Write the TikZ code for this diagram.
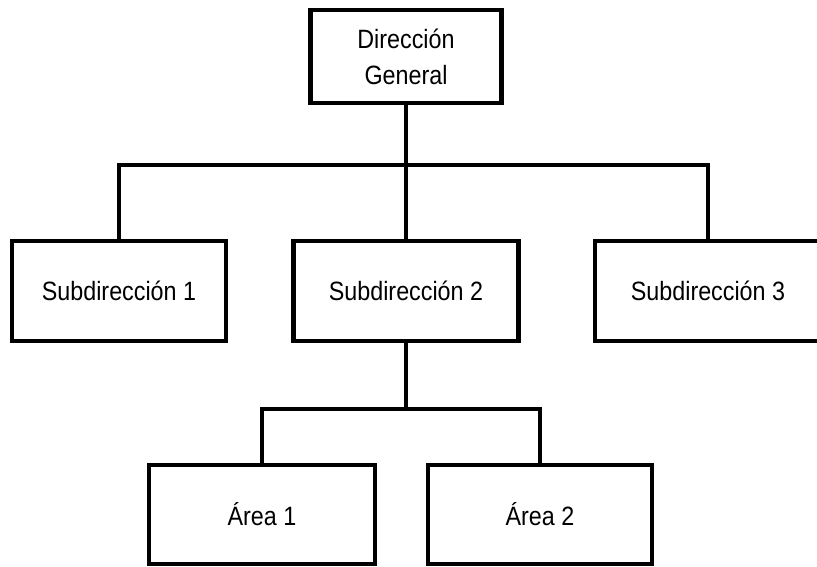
\documentclass[tikz,border=0pt]{standalone}
\usepackage{fontspec}
\setmainfont[FakeStretch=0.88]{Liberation Sans}
\usetikzlibrary{calc}
\begin{document}
\begin{tikzpicture}[x=1pt,y=1pt,
  orgbox/.style={draw=black, line width=4.4pt, fill=white, inner sep=0pt,
    align=center, font=\fontsize{26.5}{36}\selectfont},
  link/.style={line width=3.8pt, line cap=rect}]
  \fill[white] (0,0) rectangle (817,-567);
  \useasboundingbox (0,0) rectangle (817,-567);

  % top level
  \node[orgbox, minimum width=191pt, minimum height=93pt] (dg) at (406,-56.5) {Dirección\\General};

  % second level
  \node[orgbox, minimum width=214pt, minimum height=100pt] (s1) at (119,-291) {Subdirección 1};
  \node[orgbox, minimum width=225pt, minimum height=100pt] (s2) at (406,-291) {Subdirección 2};
  \node[orgbox, minimum width=226pt, minimum height=100pt] (s3) at (708,-291) {Subdirección 3};

  % third level
  \node[orgbox, minimum width=226pt, minimum height=99pt] (a1) at (262,-514.5) {Área 1};
  \node[orgbox, minimum width=224pt, minimum height=99pt] (a2) at (540,-514.5) {Área 2};

  % junction points of the connector bars
  \coordinate (bus1) at ($(dg.south)+(0,-60)$);
  \coordinate (bus2) at ($(s2.south)+(0,-66)$);

  \draw[link] (dg.south) -- (bus1);
  \draw[link] (s1.north) |- (bus1) -| (s3.north);
  \draw[link] (bus1) -- (s2.north);
  \draw[link] (s2.south) -- (bus2);
  \draw[link] (a1.north) |- (bus2) -| (a2.north);
\end{tikzpicture}
\end{document}
